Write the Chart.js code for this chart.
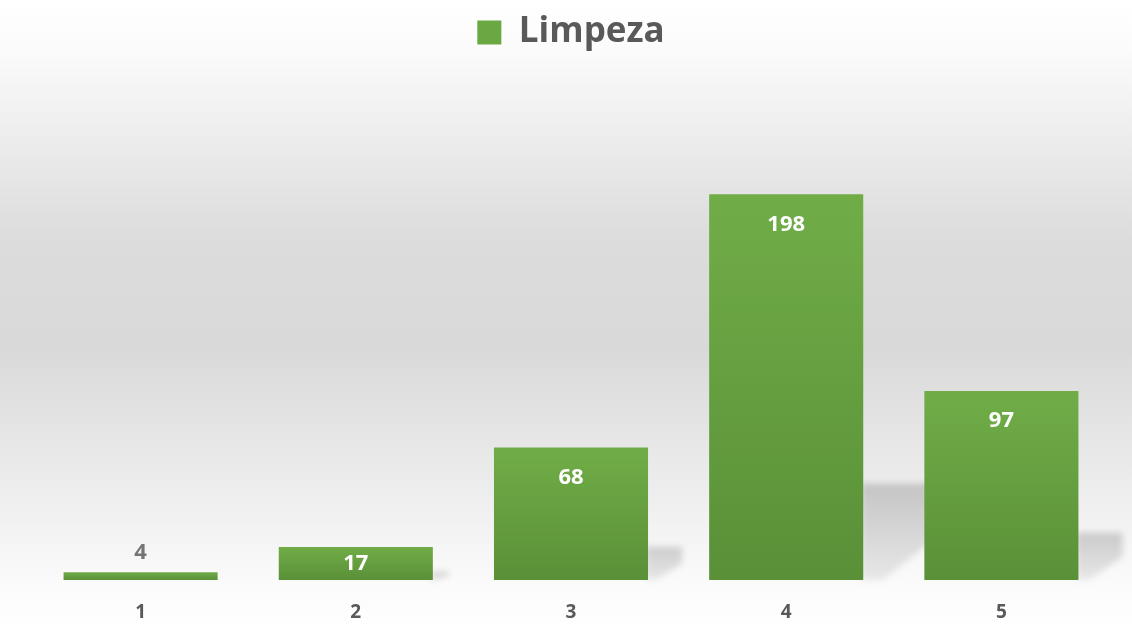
<!DOCTYPE html>
<html>
<head>
<meta charset="utf-8">
<script src="https://cdn.jsdelivr.net/npm/chart.js@4.4.1/dist/chart.umd.min.js"></script>
<style>
  html, body { margin: 0; padding: 0; background: #fff; }
  #wrap { width: 1132px; height: 630px; position: relative; }
</style>
</head>
<body>
<div id="wrap"><canvas id="grafico"></canvas></div>
<script>
// Dados do gráfico
const categorias = ['1', '2', '3', '4', '5'];
const valoresLimpeza = [4, 17, 68, 198, 97];
const nomeSerie = 'Limpeza';

const verdeTopo = '#70ad47';
const verdeBase = '#5a9038';
const cinzaTexto = '#595959';

// Fundo em degradê cinza
const fundoPlugin = {
  id: 'fundo',
  beforeDraw(chart) {
    const c = chart.ctx;
    const g = c.createLinearGradient(0, 0, 0, chart.height);
    g.addColorStop(0, '#ffffff');
    g.addColorStop(0.08, '#fbfbfb');
    g.addColorStop(0.38, '#dcdcdc');
    g.addColorStop(0.55, '#d9d9d9');
    g.addColorStop(0.93, '#fbfbfb');
    g.addColorStop(1, '#ffffff');
    c.save();
    c.fillStyle = g;
    c.fillRect(0, 0, chart.width, chart.height);
    c.restore();
  }
};

// Sombra em perspectiva atrás das barras
const sombraPlugin = {
  id: 'sombra',
  beforeDatasetsDraw(chart) {
    const c = chart.ctx;
    const meta = chart.getDatasetMeta(0);
    c.save();
    c.filter = 'blur(3px)';
    meta.data.forEach(bar => {
      const h = bar.base - bar.y;
      if (h < 20) return;
      const right = bar.x + bar.width / 2;
      const sh = h * 0.25;
      const dx = h * 0.18 + 10;
      const g = c.createLinearGradient(0, bar.base - sh, 0, bar.base);
      g.addColorStop(0, 'rgba(0,0,0,0.17)');
      g.addColorStop(1, 'rgba(0,0,0,0.07)');
      c.fillStyle = g;
      c.beginPath();
      c.moveTo(right - 2, bar.base - sh);
      c.lineTo(right + dx, bar.base - sh);
      c.lineTo(right + dx, bar.base - sh * 0.5);
      c.lineTo(right + dx * 0.25, bar.base);
      c.lineTo(right - 2, bar.base);
      c.closePath();
      c.fill();
    });
    c.restore();
  }
};

// Rótulos de dados
const rotulosPlugin = {
  id: 'rotulos',
  afterDatasetsDraw(chart) {
    const c = chart.ctx;
    const meta = chart.getDatasetMeta(0);
    c.save();
    c.font = 'bold 22px "Open Sans"';
    c.textAlign = 'center';
    c.textBaseline = 'middle';
    meta.data.forEach((bar, i) => {
      const v = valoresLimpeza[i];
      const h = bar.base - bar.y;
      if (h < 26) {
        c.fillStyle = '#757575';
        c.fillText(v, bar.x, bar.y - 19);
      } else {
        c.fillStyle = '#ffffff';
        c.fillText(v, bar.x, Math.min(bar.y + 30, (bar.y + bar.base) / 2));
      }
    });
    c.restore();
  }
};

function corBarra(context) {
  const chart = context.chart;
  const y = chart.scales && chart.scales.y;
  if (!y || !chart.chartArea || context.parsed == null) return verdeTopo;
  const topo = y.getPixelForValue(context.parsed.y);
  const base = y.getPixelForValue(0);
  if (!isFinite(topo) || !isFinite(base) || base - topo < 1) return verdeTopo;
  const g = chart.ctx.createLinearGradient(0, topo, 0, base);
  g.addColorStop(0, verdeTopo);
  g.addColorStop(1, verdeBase);
  return g;
}

const ctx = document.getElementById('grafico').getContext('2d');
new Chart(ctx, {
  type: 'bar',
  data: {
    labels: categorias,
    datasets: [{
      label: nomeSerie,
      data: valoresLimpeza,
      backgroundColor: corBarra,
      borderWidth: 0,
      categoryPercentage: 1,
      barPercentage: 0.716
    }]
  },
  options: {
    responsive: true,
    maintainAspectRatio: false,
    animation: false,
    layout: { padding: { left: 33, right: 23, top: 0, bottom: 0 } },
    plugins: {
      legend: {
        position: 'top',
        labels: {
          color: cinzaTexto,
          font: { family: '"Open Sans"', size: 35, weight: 'bold' },
          boxWidth: 24,
          boxHeight: 24,
          padding: 15,
          generateLabels(chart) {
            return [{
              text: nomeSerie,
              fillStyle: '#6aa842',
              strokeStyle: '#6aa842',
              lineWidth: 0,
              datasetIndex: 0,
              fontColor: cinzaTexto
            }];
          }
        }
      },
      // espaço vazio entre a legenda e a área do gráfico
      title: {
        display: true,
        text: ' ',
        weight: 500,
        font: { size: 10 },
        padding: { top: 21, bottom: 0 }
      },
      tooltip: { enabled: false }
    },
    scales: {
      x: {
        grid: { display: false },
        border: { display: false },
        ticks: {
          color: cinzaTexto,
          font: { family: '"Open Sans"', size: 19, weight: 'bold' },
          padding: 13
        },
        afterFit(scale) { scale.height = 50; }
      },
      y: {
        display: false,
        min: 0,
        max: 250
      }
    }
  },
  plugins: [fundoPlugin, sombraPlugin, rotulosPlugin]
});
</script>
</body>
</html>
